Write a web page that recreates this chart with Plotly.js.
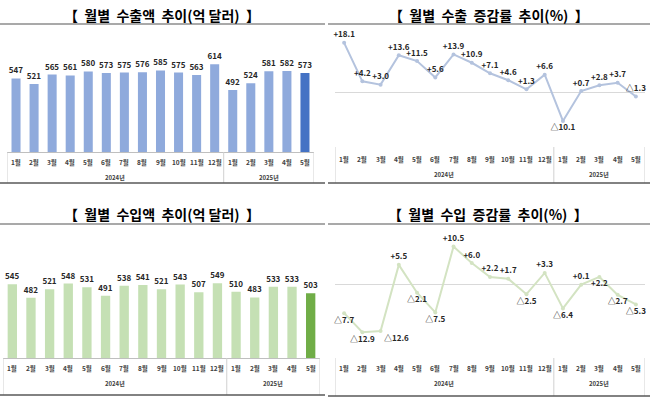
<!DOCTYPE html>
<html><head><meta charset="utf-8">
<script src="https://cdn.plot.ly/plotly-3.0.1.min.js"></script>
<style>html,body{margin:0;padding:0;background:#fff;}#chart{width:650px;height:398px;}</style>
</head><body><div id="chart"></div>
<script>
// ---- data ----
const months = ['1월','2월','3월','4월','5월','6월','7월','8월','9월','10월','11월','12월','1월','2월','3월','4월','5월'];
const years = ['2024년','2024년','2024년','2024년','2024년','2024년','2024년','2024년','2024년','2024년','2024년','2024년','2025년','2025년','2025년','2025년','2025년'];
const exportValues = [547,521,565,561,580,573,575,576,585,575,563,614,492,524,581,582,573];
const exportGrowth = [18.1,4.2,3.0,13.6,11.5,5.6,13.9,10.9,7.1,4.6,1.3,6.6,-10.1,0.7,2.8,3.7,-1.3];
const importValues = [545,482,521,548,531,491,538,541,521,543,507,549,510,483,533,533,503];
const importGrowth = [-7.7,-12.9,-12.6,5.5,-2.1,-7.5,10.5,6.0,2.2,1.7,-2.5,3.3,-6.4,0.1,2.2,-2.7,-5.3];
const titles = ['【  월별  수출액  추이(억 달러)  】','【  월별  수출  증감률  추이(%)  】','【  월별  수입액  추이(억 달러)  】','【  월별  수입  증감률  추이(%)  】'];

// ---- styles ----
const exportGrowthPos = ['top center','top center','top center','top center','top center','top center','top center','top center','top center','top center','top center','top center','bottom center','top center','top center','top center','top center'];
const importGrowthPos = ['bottom center','bottom center','bottom right','top center','bottom center','bottom center','top center','top center','top center','top center','bottom center','top center','bottom center','top center','bottom center','bottom center','bottom center'];

const W = 650, H = 398;
const px = p => p / W, py = p => 1 - p / H;
const idx = months.map((m, i) => i);
const fmtPct = v => (v < 0 ? '△' + Math.abs(v).toFixed(1) : '+' + v.toFixed(1));
const KFONT = '"Noto Sans CJK KR", "Noto Sans", sans-serif';
const lastIdx = idx.length - 1;

const traces = [
  {type:'bar', x: idx, y: exportValues, xaxis:'x', yaxis:'y',
   marker:{color: idx.map(i => i === lastIdx ? '#4472C4' : '#8FAADC')},
   text: exportValues.map(String), textposition:'outside', cliponaxis:false, constraintext:'none',
   textfont:{family:KFONT, size:8, color:'#262626', weight:700}, hoverinfo:'none'},
  {type:'scatter', mode:'lines+markers+text', x: idx, y: exportGrowth, xaxis:'x2', yaxis:'y2',
   line:{color:'#B4C3DE', width:2}, marker:{color:'#B4C3DE', size:4},
   text: exportGrowth.map(fmtPct), textposition: exportGrowthPos, cliponaxis:false,
   textfont:{family:KFONT, size:8, color:'#262626', weight:700}, hoverinfo:'none'},
  {type:'bar', x: idx, y: importValues, xaxis:'x3', yaxis:'y3',
   marker:{color: idx.map(i => i === lastIdx ? '#70AD47' : '#C5E0B4')},
   text: importValues.map(String), textposition:'outside', cliponaxis:false, constraintext:'none',
   textfont:{family:KFONT, size:8, color:'#262626', weight:700}, hoverinfo:'none'},
  {type:'scatter', mode:'lines+markers+text', x: idx, y: importGrowth, xaxis:'x4', yaxis:'y4',
   line:{color:'#D3E3C2', width:2}, marker:{color:'#D3E3C2', size:4},
   text: importGrowth.map(fmtPct), textposition: importGrowthPos, cliponaxis:false,
   textfont:{family:KFONT, size:8, color:'#262626', weight:700}, hoverinfo:'none'}
];

// panel geometry (pixels)
const panels = [
  {xa:'x', ya:'y', x0:7, x1:314, yb:152, yt:46, range:[200,700], monthY:162, yearY:177, lineY:183, lineX:[0,325], titleX:162, titleY:15, ulY:24, ulX:[0,325], boxTop:true},
  {xa:'x2', ya:'y2', x0:335, x1:645, yb:147, yt:32, range:[-19.5,22], monthY:159, yearY:174, lineY:183, lineX:[328,650], titleX:489, titleY:15, ulY:24, ulX:[328,650], boxTop:false},
  {xa:'x3', ya:'y3', x0:3, x1:320, yb:358, yt:251, range:[200,700], monthY:368, yearY:383, lineY:395, lineX:[0,325], titleX:162, titleY:214, ulY:224, ulX:[0,325], boxTop:true},
  {xa:'x4', ya:'y4', x0:335, x1:645, yb:358, yt:232, range:[-19.95,14.48], monthY:368, yearY:383, lineY:396, lineX:[328,650], titleX:488, titleY:214, ulY:224, ulX:[328,650], boxTop:false}
];

const layout = {width:W, height:H, margin:{l:0,r:0,t:0,b:0}, showlegend:false,
  paper_bgcolor:'#fff', plot_bgcolor:'rgba(0,0,0,0)', bargap:0.5,
  shapes:[], annotations:[]};

// year groups
const groups = [];
years.forEach((y, i) => {
  if (!groups.length || groups[groups.length-1].name !== y) groups.push({name:y, start:i, end:i});
  else groups[groups.length-1].end = i;
});

panels.forEach((p, k) => {
  const n = k === 0 ? '' : String(k+1);
  const isLine = k % 2 === 1;
  layout['xaxis'+n] = {domain:[px(p.x0), px(p.x1)], range:[-0.5, idx.length-0.5], anchor:'y'+n,
    showgrid:false, zeroline:false, showline:p.boxTop, linecolor:'#BFBFBF', linewidth:1,
    showticklabels:false, ticks:'', fixedrange:true};
  layout['yaxis'+n] = {domain:[py(p.yb), py(p.yt)], range:p.range, anchor:'x'+n,
    showgrid:false, showticklabels:false, ticks:'', showline:false,
    zeroline:isLine, zerolinecolor:'#D9D9D9', zerolinewidth:1, fixedrange:true};
  // month labels
  months.forEach((m, i) => layout.annotations.push({xref:p.xa, yref:'paper', x:i, y:py(p.monthY),
    text:m, showarrow:false, yanchor:'middle', xanchor:'center',
    font:{family:KFONT, size:6.5, color:'#404040', weight:700}}));
  // year labels and dividers
  groups.forEach(g => {
    layout.annotations.push({xref:p.xa, yref:'paper', x:(g.start+g.end)/2, y:py(p.yearY),
      text:g.name, showarrow:false, yanchor:'middle', xanchor:'center',
      font:{family:KFONT, size:6, color:'#404040', weight:700}});
  });
  const divs = [groups[0].start-0.5].concat(groups.map(g => g.end+0.5));
  divs.forEach(d => layout.shapes.push({type:'line', xref:p.xa, yref:'paper', x0:d, x1:d,
    y0:py(p.yb), y1:py(p.lineY), line:{color:'#D0D0D0', width:1}}));
  // bottom line
  layout.shapes.push({type:'line', xref:'paper', yref:'paper', x0:px(p.lineX[0]), x1:px(p.lineX[1]),
    y0:py(p.lineY), y1:py(p.lineY), line:{color:'#595959', width:1.5}});
  // title underline
  layout.shapes.push({type:'line', xref:'paper', yref:'paper', x0:px(p.ulX[0]), x1:px(p.ulX[1]),
    y0:py(p.ulY), y1:py(p.ulY), line:{color:'#8C8C8C', width:1.5}});
  // title
  layout.annotations.push({xref:'paper', yref:'paper', x:px(p.titleX), y:py(p.titleY),
    text:titles[k], showarrow:false, xanchor:'center', yanchor:'middle',
    font:{family:KFONT, size:14, color:'#000', weight:700}});
});

Plotly.newPlot('chart', traces, layout, {staticPlot:true, displayModeBar:false});
</script></body></html>
